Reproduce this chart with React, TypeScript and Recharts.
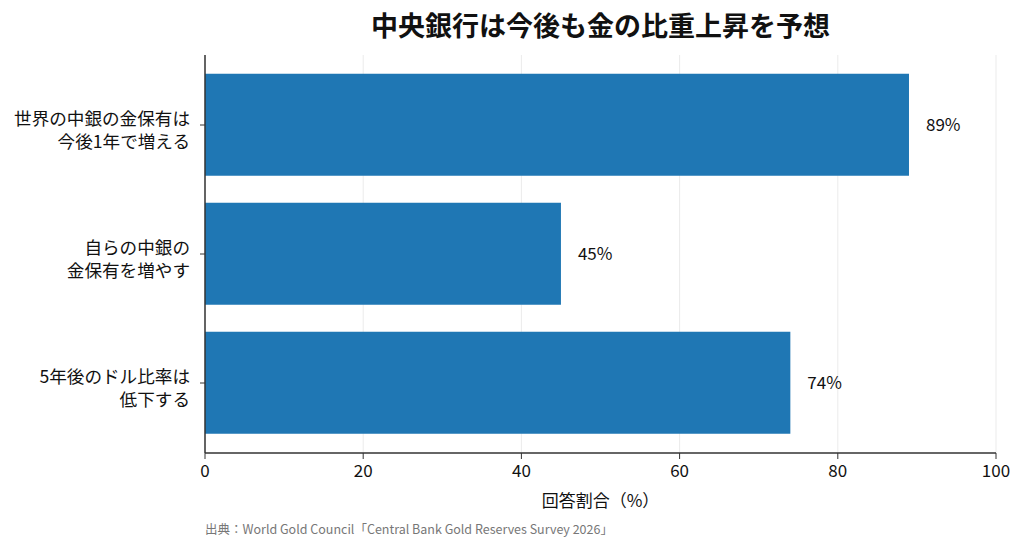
import React from 'react';
import { BarChart, Bar, XAxis, YAxis, CartesianGrid, LabelList } from 'recharts';

const categories = [
  '世界の中銀の金保有は\n今後1年で増える',
  '自らの中銀の\n金保有を増やす',
  '5年後のドル比率は\n低下する',
];
const shares = [89, 45, 74];
const xTicks = [0, 20, 40, 60, 80, 100];

const data = categories.map((name, i) => ({ name, value: shares[i] }));

const FONT = '"Noto Sans CJK JP", "Noto Sans", sans-serif';

const CategoryTick = (props: any) => {
  const { x, y, payload } = props;
  const lines = String(payload.value).split('\n');
  return (
    <g>
      {lines.map((line, i) => (
        <text
          key={i}
          x={x - 8}
          y={y + (i === 0 ? -8 : 15)}
          textAnchor="end"
          dominantBaseline="central"
          fontSize={17.6}
          fill="#111"
          fontFamily={FONT}
        >
          {line}
        </text>
      ))}
    </g>
  );
};

const App = () => {
  return (
    <div style={{ position: 'absolute', left: 0, top: 0, width: 1024, height: 549, background: '#fff', fontFamily: FONT }}>
      <div style={{ position: 'absolute', left: 205, width: 791, top: 11, lineHeight: '28px', textAlign: 'center', fontSize: 27, fontWeight: 700, color: '#111' }}>
        中央銀行は今後も金の比重上昇を予想
      </div>
      <BarChart
        width={1024}
        height={549}
        data={data}
        layout="vertical"
        margin={{ top: 55, right: 28, bottom: 66, left: 10 }}
        barCategoryGap="10.3%"
      >
        <CartesianGrid horizontal={false} stroke="#ebebeb" />
        <XAxis
          type="number"
          domain={[0, 100]}
          ticks={xTicks}
          height={30}
          tick={{ fontSize: 17, fill: '#111', fontFamily: FONT }}
          tickSize={6}
          tickMargin={6}
          tickLine={{ stroke: '#333' }}
          axisLine={{ stroke: '#333', strokeWidth: 1.5 }}
        />
        <YAxis
          type="category"
          dataKey="name"
          width={195}
          padding={{ top: 5.5, bottom: 5.5 }}
          tick={<CategoryTick />}
          tickSize={5}
          tickLine={{ stroke: '#333' }}
          axisLine={{ stroke: '#333', strokeWidth: 1.5 }}
          interval={0}
        />
        <Bar dataKey="value" fill="#1f77b4" isAnimationActive={false}>
          <LabelList
            dataKey="value"
            position="right"
            offset={17}
            formatter={(v: any) => `${v}%`}
            style={{ fontSize: 17, fill: '#111', fontFamily: FONT }}
          />
        </Bar>
      </BarChart>
      <div style={{ position: 'absolute', left: 205, width: 791, top: 489, lineHeight: '22px', textAlign: 'center', fontSize: 17, color: '#111' }}>
        回答割合（%）
      </div>
      <div style={{ position: 'absolute', left: 205, top: 520, lineHeight: '18px', fontSize: 12.5, color: '#777' }}>
        出典：World Gold Council「Central Bank Gold Reserves Survey 2026」
      </div>
    </div>
  );
};

export default App;
